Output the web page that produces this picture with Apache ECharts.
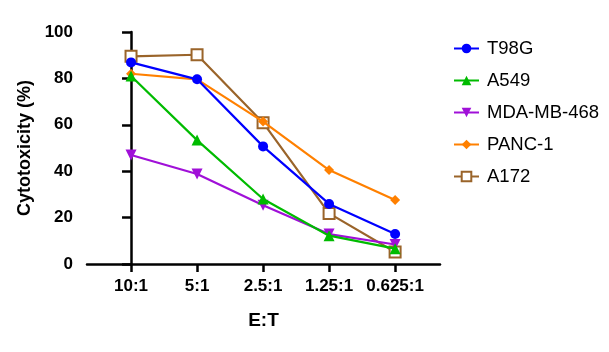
<!DOCTYPE html>
<html><head><meta charset="utf-8">
<script src="https://cdn.jsdelivr.net/npm/echarts@6/dist/echarts.min.js"></script>
<style>html,body{margin:0;padding:0;background:#fff}#c{width:609px;height:352px}</style>
</head><body><div id="c"></div>
<script>
const categories = ['10:1', '5:1', '2.5:1', '1.25:1', '0.625:1'];
const yTicks = [0, 20, 40, 60, 80, 100];
const seriesNames = ['T98G', 'A549', 'MDA-MB-468', 'PANC-1', 'A172'];
const t98g = [86.9, 79.6, 50.7, 25.9, 12.9];
const a549 = [81.0, 53.4, 28.0, 12.2, 6.6];
const mda = [47.0, 38.8, 25.3, 12.9, 8.4];
const panc1 = [82.0, 79.6, 61.4, 40.5, 27.6];
const a172 = [89.5, 90.2, 60.9, 21.8, 5.2];

const FONT = 'Liberation Sans, Arial, sans-serif';
const colors = ['#0000ff', '#00bb00', '#a010d8', '#ff8000', '#9a642a'];
const symbols = ['circle', 'triangle', 'path://M0,0 L10,0 L5,10 Z', 'diamond', 'emptyRect'];
const sizes = [10, 11, 11, 10, 11];
const datas = [t98g, a549, mda, panc1, a172];

const series = seriesNames.map((n, i) => ({
  name: n,
  type: 'line',
  data: datas[i].map((v, j) => [j, v]),
  symbol: symbols[i],
  symbolSize: sizes[i],
  color: colors[i],
  lineStyle: { width: 2.2, color: colors[i] },
  itemStyle: i === 4 ? { color: colors[i], borderColor: colors[i], borderWidth: 2 } : { color: colors[i] },
  z: 10 - i
}));

const chart = echarts.init(document.getElementById('c'));
chart.setOption({
  animation: false,
  backgroundColor: '#fff',
  grid: { left: 87, top: 32, right: 169, bottom: 88, containLabel: false },
  legend: {
    orient: 'vertical',
    left: 448, top: 34,
    itemGap: 13,
    itemWidth: 25, itemHeight: 12,
    textStyle: { fontFamily: FONT, fontSize: 18.5, color: '#000', padding: [0, 0, 0, 3] },
    data: seriesNames
  },
  xAxis: {
    type: 'value',
    min: -0.667, max: 4.68,
    name: 'E:T', nameLocation: 'middle', nameGap: 47,
    nameTextStyle: { fontFamily: FONT, fontSize: 19, fontWeight: 'bold', color: '#000' },
    axisLine: { show: true, lineStyle: { color: '#000', width: 2.5 } },
    axisTick: { show: true, length: 8, customValues: [0, 1, 2, 3, 4], lineStyle: { color: '#000', width: 2.5 } },
    axisLabel: { customValues: [0, 1, 2, 3, 4], formatter: v => categories[Math.round(v)], fontFamily: FONT, fontSize: 17, fontWeight: 'bold', color: '#000', margin: 14 },
    splitLine: { show: false }
  },
  yAxis: {
    type: 'value', min: 0, max: 100, interval: 20,
    name: 'Cytotoxicity (%)', nameLocation: 'middle', nameGap: 50,
    nameTextStyle: { fontFamily: FONT, fontSize: 18, fontWeight: 'bold', color: '#000' },
    axisLine: { show: true, lineStyle: { color: '#000', width: 2.5 } },
    axisTick: { show: true, length: 9, lineStyle: { color: '#000', width: 2.5 } },
    axisLabel: { fontFamily: FONT, fontSize: 17, fontWeight: 'bold', color: '#000', margin: 14, formatter: v => yTicks.includes(v) ? String(v) : '' },
    splitLine: { show: false }
  },
  series: series
});
</script></body></html>
